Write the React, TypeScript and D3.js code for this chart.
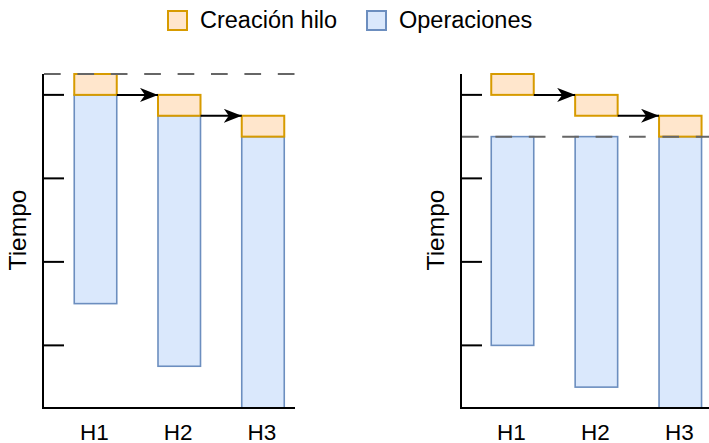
import React from "react";
import * as d3 from "d3";

const categories = ["H1", "H2", "H3"];
const creationTime = [1, 1, 1];
const operationTime = [10, 12, 13];
const yTicks = [1, 5, 9, 13];
const legendLabels = ["Creación hilo", "Operaciones"];
const yTitle = "Tiempo";

const W = 709;
const H = 443;
const FONT = "'Liberation Sans', Arial, Helvetica, sans-serif";
const ORANGE_FILL = "#ffe6cc";
const ORANGE_STROKE = "#d79b00";
const BLUE_FILL = "#dae8fc";
const BLUE_STROKE = "#6c8ebf";

type Seg = { cat: string; cStart: number; cEnd: number; oStart: number; oEnd: number };

function sequential(): Seg[] {
  let t = 0;
  return categories.map((cat, i) => {
    const cStart = t;
    const cEnd = cStart + creationTime[i];
    const oStart = cEnd;
    const oEnd = oStart + operationTime[i];
    t = cEnd;
    return { cat, cStart, cEnd, oStart, oEnd };
  });
}

function pooled(): Seg[] {
  let t = 0;
  const creations = categories.map((cat, i) => {
    const cStart = t;
    const cEnd = cStart + creationTime[i];
    t = cEnd;
    return { cStart, cEnd };
  });
  const start = d3.max(creations, (c) => c.cEnd) as number;
  return categories.map((cat, i) => ({
    cat,
    cStart: creations[i].cStart,
    cEnd: creations[i].cEnd,
    oStart: start,
    oEnd: start + operationTime[i],
  }));
}

function Panel({
  axisX,
  axisEnd,
  xRange,
  segs,
  dashAt,
  titleX,
}: {
  axisX: number;
  axisEnd: number;
  xRange: [number, number];
  segs: Seg[];
  dashAt: number;
  titleX: number;
}) {
  const domainMax = d3.max(segs, (s) => s.oEnd) as number;
  const y = d3.scaleLinear().domain([0, domainMax]).range([74, 408]);
  const x = d3.scalePoint<string>().domain(categories).range(xRange);
  const bw = 42.5;
  const arrowId = `arrow-${axisX}`;
  return (
    <g>
      <defs>
        <marker
          id={arrowId}
          viewBox="0 0 18 14"
          refX={18}
          refY={7}
          markerWidth={18}
          markerHeight={14}
          markerUnits="userSpaceOnUse"
          orient="auto"
        >
          <path d="M0,0 L18,7 L0,14 L5,7 Z" fill="#000" />
        </marker>
      </defs>
      {segs.map((s) => {
        const cx = x(s.cat) as number;
        return (
          <g key={s.cat}>
            <rect
              x={cx - bw / 2}
              y={y(s.oStart)}
              width={bw}
              height={y(s.oEnd) - y(s.oStart)}
              fill={BLUE_FILL}
              stroke={BLUE_STROKE}
              strokeWidth={1.6}
            />
            <rect
              x={cx - bw / 2}
              y={y(s.cStart)}
              width={bw}
              height={y(s.cEnd) - y(s.cStart)}
              fill={ORANGE_FILL}
              stroke={ORANGE_STROKE}
              strokeWidth={2}
            />
          </g>
        );
      })}
      {segs.slice(0, -1).map((s, i) => {
        const cx = x(s.cat) as number;
        const nx = x(segs[i + 1].cat) as number;
        return (
          <line
            key={"a" + i}
            x1={cx + bw / 2}
            x2={nx - bw / 2}
            y1={y(s.cEnd)}
            y2={y(s.cEnd)}
            stroke="#000"
            strokeWidth={2}
            markerEnd={`url(#${arrowId})`}
          />
        );
      })}
      <line
        x1={axisX + 1}
        x2={axisEnd}
        y1={y(dashAt)}
        y2={y(dashAt)}
        stroke="#666"
        strokeWidth={2}
        strokeDasharray="16.7 16.7"
      />
      <line x1={axisX} x2={axisX} y1={74} y2={409} stroke="#000" strokeWidth={2} />
      <line x1={axisX - 1} x2={axisEnd} y1={408} y2={408} stroke="#000" strokeWidth={2} />
      {yTicks.map((t) => (
        <line key={t} x1={axisX} x2={axisX + 21} y1={y(t)} y2={y(t)} stroke="#000" strokeWidth={2} />
      ))}
      {categories.map((c) => (
        <text
          key={c}
          x={(x(c) as number) - 1}
          y={439.5}
          textAnchor="middle"
          fontFamily={FONT}
          fontSize={22.5}
          fill="#000"
        >
          {c}
        </text>
      ))}
      <text
        transform={`translate(${titleX},230) rotate(-90)`}
        textAnchor="middle"
        fontFamily={FONT}
        fontSize={24.5}
        fill="#000"
      >
        {yTitle}
      </text>
    </g>
  );
}

export default function App() {
  const seq = sequential();
  const pool = pooled();
  const poolStart = pool[0].oStart;
  const legend = [
    { label: legendLabels[0], fill: ORANGE_FILL, stroke: ORANGE_STROKE, x: 168 },
    { label: legendLabels[1], fill: BLUE_FILL, stroke: BLUE_STROKE, x: 367 },
  ];
  return (
    <svg
      width={W}
      height={H}
      viewBox={`0 0 ${W} ${H}`}
      style={{ position: "absolute", left: 0, top: 0, background: "#fff" }}
    >
      <rect width={W} height={H} fill="#fff" />
      {legend.map((l) => (
        <g key={l.label}>
          <rect x={l.x} y={11} width={19} height={19} fill={l.fill} stroke={l.stroke} strokeWidth={2} />
          <text x={l.x + 32} y={27.5} fontFamily={FONT} fontSize={23.5} fill="#000">
            {l.label}
          </text>
        </g>
      ))}
      <Panel axisX={43} axisEnd={295} xRange={[95.5, 263]} segs={seq} dashAt={0} titleX={26} />
      <Panel
        axisX={461}
        axisEnd={720}
        xRange={[512.5, 680.3]}
        segs={pool}
        dashAt={poolStart}
        titleX={444}
      />
    </svg>
  );
}
